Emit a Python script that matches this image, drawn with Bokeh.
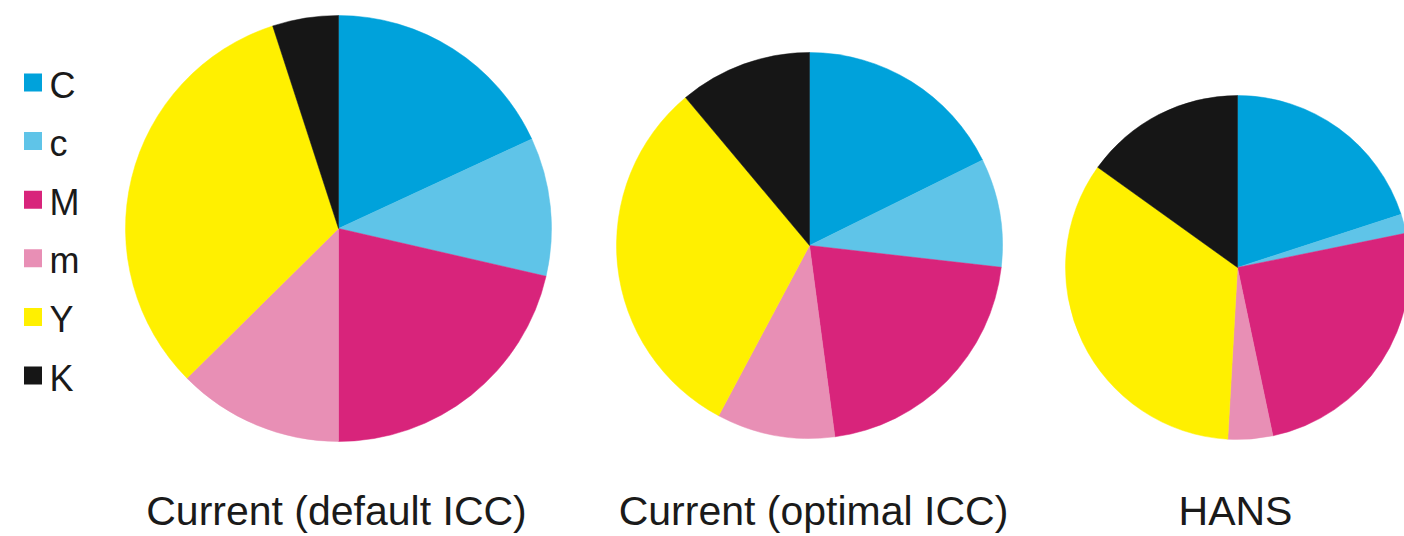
import numpy as np
from bokeh.plotting import figure
from bokeh.models import Range1d, ColumnDataSource
from bokeh.core.properties import value
from bokeh.embed import file_html
from bokeh.resources import INLINE

# ---- data ----
categories = ["C", "c", "M", "m", "Y", "K"]
current_default = [18.1, 10.5, 21.4, 12.6, 32.4, 5.0]
current_optimal = [17.7, 9.1, 21.1, 9.9, 31.1, 11.1]
hans = [20.0, 1.8, 24.9, 4.2, 34.0, 15.1]
pie_titles = ["Current (default ICC)", "Current (optimal ICC)", "HANS"]

colors = ["#00A2DB", "#5FC4E8", "#D8247B", "#E88FB5", "#FFF000", "#161616"]

W, H = 1404, 536
p = figure(width=W, height=H, x_range=Range1d(0, W), y_range=Range1d(0, H),
           output_backend="svg", toolbar_location=None, min_border=0)
p.axis.visible = False
p.grid.visible = False
p.outline_line_color = None
p.background_fill_color = "white"
p.border_fill_color = "white"

def Y(yimg):
    return H - yimg

# layout: (center x, center y (image), radius, label center x)
layout = [(338, 228, 213, 336), (809, 245, 193, 813), (1237, 267, 172, 1235)]
series = [current_default, current_optimal, hans]

for (cx, cy, r, lx), vals, title in zip(layout, series, pie_titles):
    v = np.array(vals, dtype=float)
    frac = v / v.sum()
    cum = np.concatenate([[0.0], np.cumsum(frac)])
    start = np.pi / 2 - 2 * np.pi * cum[:-1]
    end = np.pi / 2 - 2 * np.pi * cum[1:]
    src = ColumnDataSource(dict(start=start, end=end, color=colors, cat=categories))
    p.wedge(x=cx, y=Y(cy), radius=r, start_angle="start", end_angle="end",
            direction="clock", fill_color="color", line_color="color",
            line_width=0.5, source=src)
    p.text(x=[lx], y=[Y(510)], text=[title], text_font=value("Liberation Sans"),
           text_font_size="41px", text_align="center", text_baseline="alphabetic",
           text_color="#1a1a1a")

# legend
step = 58.6
sq_y = [Y(82 + step * i) for i in range(len(categories))]
lab_y = [Y(84.5 + step * i) for i in range(len(categories))]
p.rect(x=[32.5] * len(categories), y=sq_y, width=18, height=18,
       fill_color=colors, line_color=None)
p.text(x=[49] * len(categories), y=lab_y, text=categories,
       text_font=value("Liberation Sans"), text_font_size="36px",
       text_align="left", text_baseline="alphabetic", text_color="#1a1a1a")

open("out.html", "w").write(file_html(p, INLINE))
